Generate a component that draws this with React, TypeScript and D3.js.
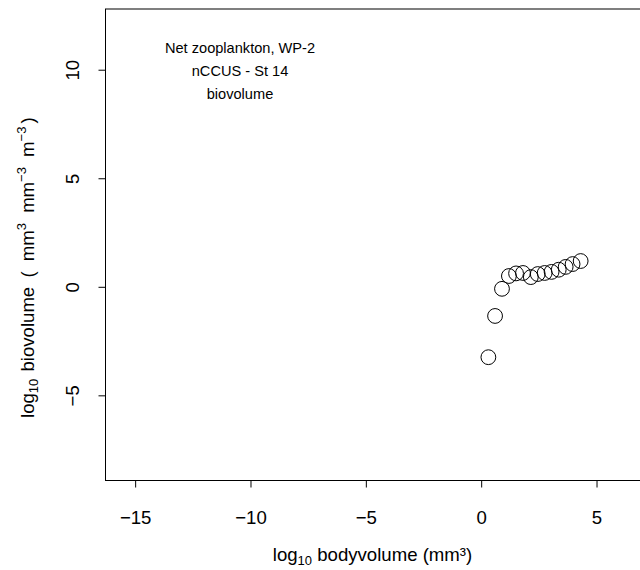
import React from "react";
import * as d3 from "d3";

const bodyVolumeLog = [0.29, 0.58, 0.88, 1.18, 1.49, 1.79, 2.13, 2.43, 2.73, 3.03, 3.34, 3.64, 3.94, 4.29];
const bioVolumeLog = [-3.22, -1.32, -0.07, 0.52, 0.64, 0.66, 0.47, 0.61, 0.66, 0.71, 0.81, 0.94, 1.07, 1.21];
const xTicks = [-15, -10, -5, 0, 5];
const yTicks = [-5, 0, 5, 10];
const titleLines = ["Net zooplankton, WP-2", "nCCUS - St 14", "biovolume"];

const W = 640;
const H = 570;
const plot = { left: 105.5, right: 641, top: 9, bottom: 480.5 };

const fmt = (v: number) => (v < 0 ? "\u2212" + Math.abs(v) : String(v));

export default function App() {
  const x = d3.scaleLinear().domain([-16.307, 6.906]).range([plot.left, plot.right]);
  const y = d3.scaleLinear().domain([-8.9, 12.82]).range([plot.bottom, plot.top]);
  const font = "'Liberation Sans', Arial, sans-serif";
  const fs = 18.6;
  const sfs = 13;
  return (
    <svg width={W} height={H} style={{ position: "absolute", left: 0, top: 0, background: "#fff" }} fontFamily={font}>
      <rect x={0} y={0} width={W} height={H} fill="#fff" />
      <rect x={plot.left} y={plot.top} width={plot.right - plot.left} height={plot.bottom - plot.top} fill="none" stroke="#000" strokeWidth={1} />
      {xTicks.map((t) => (
        <g key={"xt" + t}>
          <line x1={x(t)} x2={x(t)} y1={plot.bottom} y2={plot.bottom + 7} stroke="#000" />
          <text x={x(t)} y={523.5} fontSize={fs} textAnchor="middle" fill="#000">{fmt(t)}</text>
        </g>
      ))}
      {yTicks.map((t) => (
        <g key={"yt" + t}>
          <line x1={plot.left - 7} x2={plot.left} y1={y(t)} y2={y(t)} stroke="#000" />
          <text transform={`translate(78.5,${y(t)}) rotate(-90)`} fontSize={fs} textAnchor="middle" fill="#000">{fmt(t)}</text>
        </g>
      ))}
      {bodyVolumeLog.map((v, i) => (
        <circle key={"p" + i} cx={x(v)} cy={y(bioVolumeLog[i])} r={7.4} fill="none" stroke="#000" strokeWidth={1} />
      ))}
      {titleLines.map((s, i) => (
        <text key={"t" + i} x={240} y={52.5 + i * 23} fontSize={14.6} textAnchor="middle" fill="#000">{s}</text>
      ))}
      <text x={372.5} y={561} fontSize={fs} textAnchor="middle" fill="#000">
        log<tspan fontSize={sfs} dy={4}>10</tspan><tspan dy={-4}> bodyvolume (mm³)</tspan>
      </text>
      <text transform={`translate(34,418) rotate(-90)`} fontSize={fs} textAnchor="start" fill="#000">
        log<tspan fontSize={sfs} dy={4}>10</tspan>
        <tspan dy={-4} dx={2}> biovolume</tspan>
        <tspan dx={4}> (</tspan>
        <tspan dx={5}> mm</tspan>
        <tspan fontSize={sfs} dy={-8}>3</tspan>
        <tspan dy={8} dx={5}> mm</tspan>
        <tspan fontSize={sfs} dy={-8}>{"\u22123"}</tspan>
        <tspan dy={8} dx={5}> m</tspan>
        <tspan fontSize={sfs} dy={-8}>{"\u22123"}</tspan>
        <tspan dy={8} dx={3}>)</tspan>
      </text>
    </svg>
  );
}
